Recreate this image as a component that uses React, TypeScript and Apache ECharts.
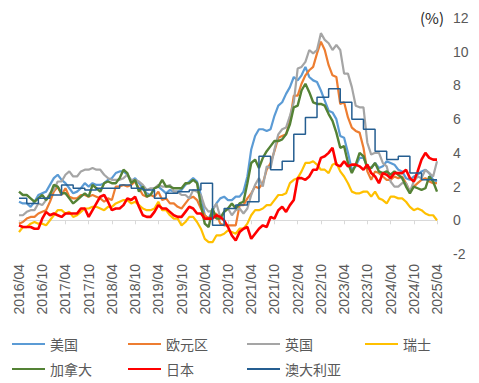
import React, { useEffect, useRef } from "react";
import * as echarts from "echarts";

// Monthly categories from 2016/04 to 2025/04
const startYear = 2016;
const startMonth = 4;
const monthCount = 109;
const categories: string[] = [];
for (let i = 0; i < monthCount; i++) {
  const m = startMonth - 1 + i;
  const y = startYear + Math.floor(m / 12);
  const mm = (m % 12) + 1;
  categories.push(`${y}/${mm < 10 ? "0" + mm : mm}`);
}

const yTicks = { min: -2, max: 12, interval: 2 };

// CPI YoY (%) — index 0 = 2016/04
const usa = [
  1.1, 1.0, 1.0, 0.8, 1.1, 1.5, 1.6, 1.7, 2.1,
  2.5, 2.7, 2.4, 2.2, 1.9, 1.6, 1.7, 1.9, 2.2, 2.0, 2.2, 2.1,
  2.1, 2.2, 2.4, 2.5, 2.8, 2.9, 2.9, 2.7, 2.3, 2.5, 2.2, 1.9,
  1.6, 1.5, 1.9, 2.0, 1.8, 1.6, 1.8, 1.7, 1.7, 1.8, 2.1, 2.3,
  2.5, 2.3, 1.5, 0.3, 0.1, 0.6, 1.0, 1.3, 1.4, 1.2, 1.2, 1.4,
  1.4, 1.7, 2.6, 4.2, 5.0, 5.4, 5.4, 5.3, 5.4, 6.2, 6.8, 7.0,
  7.5, 7.9, 8.5, 8.3, 8.6, 9.1, 8.5, 8.3, 8.2, 7.7, 7.1, 6.5,
  6.4, 6.0, 5.0, 4.9, 4.0, 3.0, 3.2, 3.7, 3.7, 3.2, 3.1, 3.4,
  3.1, 3.2, 3.5, 3.4, 3.3, 3.0, 2.9, 2.5, 2.4, 2.6, 2.7, 2.9,
  3.0, 2.8, 2.4, 2.3,
];
const euro = [
  -0.2, -0.1, 0.1, 0.2, 0.2, 0.4, 0.5, 0.6, 1.1,
  1.7, 2.0, 1.5, 1.9, 1.4, 1.3, 1.3, 1.5, 1.5, 1.4, 1.5, 1.4,
  1.3, 1.1, 1.3, 1.2, 2.0, 2.0, 2.1, 2.0, 2.1, 2.3, 1.9, 1.5,
  1.4, 1.5, 1.4, 1.7, 1.2, 1.3, 1.0, 1.0, 0.8, 0.7, 1.0, 1.3,
  1.4, 1.2, 0.7, 0.3, 0.1, 0.3, 0.4, -0.2, -0.3, -0.3, -0.3, -0.3,
  0.9, 0.9, 1.3, 1.6, 2.0, 1.9, 2.2, 3.0, 3.4, 4.1, 4.9, 5.0,
  5.1, 5.9, 7.4, 7.4, 8.1, 8.6, 8.9, 9.1, 9.9, 10.6, 10.1, 9.2,
  8.6, 8.5, 6.9, 7.0, 6.1, 5.5, 5.3, 5.2, 4.3, 2.9, 2.4, 2.9,
  2.8, 2.6, 2.4, 2.4, 2.6, 2.5, 2.6, 2.2, 1.7, 2.0, 2.2, 2.4,
  2.5, 2.3, 2.2, 2.2,
];
const uk = [
  0.3, 0.3, 0.5, 0.6, 0.6, 1.0, 0.9, 1.2, 1.6,
  1.8, 2.3, 2.3, 2.7, 2.9, 2.6, 2.6, 2.9, 3.0, 3.0, 3.1, 3.0,
  3.0, 2.7, 2.5, 2.4, 2.4, 2.4, 2.5, 2.7, 2.4, 2.4, 2.3, 2.1,
  1.8, 1.9, 1.9, 2.1, 2.0, 2.0, 2.1, 1.7, 1.7, 1.5, 1.5, 1.3,
  1.8, 1.7, 1.5, 0.8, 0.5, 0.6, 1.0, 0.2, 0.5, 0.7, 0.3, 0.6,
  0.7, 0.4, 0.7, 1.5, 2.1, 2.5, 2.0, 3.2, 3.1, 4.2, 5.1, 5.4,
  5.5, 6.2, 7.0, 9.0, 9.1, 9.4, 10.1, 9.9, 10.1, 11.1, 10.7, 10.5,
  10.1, 10.4, 10.1, 8.7, 8.7, 7.9, 6.8, 6.7, 6.7, 4.6, 3.9, 4.0,
  4.0, 3.4, 3.2, 2.3, 2.0, 2.0, 2.2, 2.2, 1.7, 2.3, 2.6, 2.5,
  3.0, 2.8, 2.6, 3.5,
];
const swiss = [
  -0.7, -0.4, -0.4, -0.2, -0.1, -0.2, -0.2, -0.3, 0.0,
  0.3, 0.6, 0.6, 0.4, 0.5, 0.2, 0.3, 0.5, 0.7, 0.7, 0.8, 0.8,
  0.7, 0.6, 0.8, 0.8, 1.0, 1.1, 1.2, 1.2, 1.0, 1.1, 0.9, 0.7,
  0.6, 0.6, 0.7, 1.1, 0.6, 0.6, 0.3, 0.1, 0.1, -0.3, -0.1, 0.2,
  0.2, -0.1, -0.5, -1.1, -1.3, -1.3, -0.9, -0.9, -0.8, -0.6, -0.7, -0.8,
  -0.5, -0.5, -0.2, 0.3, 0.6, 0.6, 0.7, 0.9, 0.9, 1.2, 1.5, 1.5,
  1.6, 2.2, 2.4, 2.5, 2.9, 3.4, 3.4, 3.5, 3.3, 3.0, 3.0, 2.8,
  3.3, 3.4, 2.9, 2.6, 2.2, 1.7, 1.6, 1.6, 1.7, 1.7, 1.4, 1.7,
  1.3, 1.2, 1.0, 1.4, 1.4, 1.3, 1.3, 1.1, 0.8, 0.6, 0.7, 0.6,
  0.4, 0.3, 0.3, 0.0,
];
const canada = [
  1.7, 1.5, 1.5, 1.3, 1.1, 1.3, 1.5, 1.2, 1.5,
  2.1, 2.0, 1.6, 1.6, 1.3, 1.0, 1.2, 1.4, 1.6, 1.4, 2.1, 1.9,
  1.7, 2.2, 2.3, 2.2, 2.2, 2.5, 3.0, 2.8, 2.2, 2.4, 1.7, 2.0,
  1.4, 1.5, 1.9, 2.0, 2.4, 2.0, 2.0, 1.9, 1.9, 1.9, 2.2, 2.2,
  2.4, 2.2, 0.9, -0.2, -0.4, 0.7, 0.1, 0.1, 0.5, 0.7, 1.0, 0.7,
  1.0, 1.1, 2.2, 3.4, 3.6, 3.1, 3.7, 4.1, 4.4, 4.7, 4.7, 4.8,
  5.1, 5.7, 6.7, 6.8, 7.7, 8.1, 7.6, 7.0, 6.9, 6.9, 6.8, 6.3,
  5.9, 5.2, 4.3, 4.4, 3.4, 2.8, 3.3, 4.0, 3.8, 3.1, 3.1, 3.4,
  2.9, 2.8, 2.9, 2.7, 2.9, 2.7, 2.5, 2.0, 1.6, 2.0, 1.9, 1.8,
  1.9, 2.6, 2.3, 1.7,
];
const japan = [
  -0.3, -0.4, -0.4, -0.4, -0.5, -0.5, 0.1, 0.5, 0.3,
  0.4, 0.3, 0.2, 0.4, 0.4, 0.4, 0.4, 0.7, 0.7, 0.2, 0.6, 1.0,
  1.4, 1.5, 1.1, 0.6, 0.7, 0.7, 0.9, 1.3, 1.2, 1.4, 0.8, 0.3,
  0.2, 0.2, 0.5, 0.9, 0.7, 0.7, 0.5, 0.3, 0.2, 0.2, 0.5, 0.8,
  0.7, 0.4, 0.4, 0.1, 0.1, 0.1, 0.3, 0.2, 0.0, -0.4, -0.9, -1.2,
  -0.7, -0.5, -0.4, -1.1, -0.8, -0.5, -0.3, -0.4, 0.2, 0.1, 0.6, 0.8,
  0.5, 0.9, 1.2, 2.5, 2.5, 2.4, 2.6, 3.0, 3.0, 3.7, 3.8, 4.0,
  4.3, 3.3, 3.2, 3.5, 3.2, 3.3, 3.3, 3.2, 3.0, 3.3, 2.8, 2.6,
  2.2, 2.8, 2.7, 2.5, 2.8, 2.8, 2.8, 3.0, 2.5, 2.3, 2.9, 3.6,
  4.0, 3.7, 3.6, 3.6,
];
// Australia: quarterly CPI shown as monthly steps
const australia = [
  1.3, 1.3, 1.0, 1.0, 1.0, 1.3, 1.3, 1.3, 1.5,
  1.5, 1.5, 2.1, 2.1, 2.1, 1.9, 1.9, 1.9, 1.8, 1.8, 1.8, 1.9,
  1.9, 1.9, 1.9, 1.9, 1.9, 2.1, 2.1, 2.1, 1.9, 1.9, 1.9, 1.8,
  1.8, 1.8, 1.3, 1.3, 1.3, 1.6, 1.6, 1.6, 1.7, 1.7, 1.7, 1.8,
  1.8, 1.8, 2.2, 2.2, 2.2, -0.3, -0.3, -0.3, 0.7, 0.7, 0.7, 0.9,
  0.9, 0.9, 1.1, 1.1, 1.1, 3.8, 3.8, 3.8, 3.0, 3.0, 3.0, 3.5,
  3.5, 3.5, 5.1, 5.1, 5.1, 6.1, 6.1, 6.1, 7.3, 7.3, 7.3, 7.8,
  7.8, 7.8, 7.0, 7.0, 7.0, 6.0, 6.0, 6.0, 5.4, 5.4, 5.4, 4.1,
  4.1, 4.1, 3.6, 3.6, 3.6, 3.8, 3.8, 3.8, 2.8, 2.8, 2.8, 2.4,
  2.4, 2.4, 2.4, 2.4,
];

const seriesNames = ["美国", "欧元区", "英国", "瑞士", "加拿大", "日本", "澳大利亚"];
const seriesData = [usa, euro, uk, swiss, canada, japan, australia];
const colors = ["#5B9BD5", "#ED7D31", "#A5A5A5", "#FFC000", "#548235", "#FF0000", "#255E91"];
const widths = [2.2, 2.2, 2.2, 2.2, 2.4, 2.6, 1.5];

const FONT = "'Noto Sans CJK SC', 'Noto Sans', sans-serif";
const NUM_FONT = "'Liberation Sans', Arial, sans-serif";

export default function App() {
  const ref = useRef<HTMLDivElement>(null);
  useEffect(() => {
    if (!ref.current) return;
    const chart = echarts.init(ref.current, undefined, { renderer: "svg" });
    const legendCols = [
      { left: 12, data: ["美国", "加拿大"] },
      { left: 128, data: ["欧元区", "日本"] },
      { left: 247, data: ["英国", "澳大利亚"] },
      { left: 365, data: ["瑞士"] },
    ];
    chart.setOption({
      animation: false,
      textStyle: { fontFamily: FONT },
      grid: { left: 19, right: 42, top: 18, bottom: 129 },
      legend: legendCols.map((c) => ({
        left: c.left,
        top: 337,
        padding: 0,
        orient: "vertical",
        itemWidth: 33,
        itemHeight: 2,
        itemGap: 11,
        icon: "rect",
        data: c.data,
        textStyle: { color: "#595959", fontSize: 14, fontFamily: FONT },
      })),
      graphic: [
        {
          type: "text",
          left: 420,
          top: 10,
          style: { text: "(%)", fill: "#262626", fontSize: 15, fontFamily: FONT },
        },
      ],
      xAxis: [
        {
          type: "category",
          data: categories,
          boundaryGap: false,
          axisLine: { onZero: true, lineStyle: { color: "#D9D9D9", width: 1 } },
          axisTick: { show: true, interval: 5, length: 4, lineStyle: { color: "#D9D9D9" } },
          axisLabel: { show: false },
          splitLine: { show: false },
        },
        {
          type: "category",
          data: categories,
          boundaryGap: false,
          position: "bottom",
          axisLine: { show: false, onZero: false },
          axisTick: { show: false },
          axisLabel: {
            interval: 5,
            rotate: 90,
            margin: 10,
            color: "#595959",
            fontSize: 14,
            fontFamily: NUM_FONT,
          },
          splitLine: { show: false },
        },
      ],
      yAxis: {
        type: "value",
        position: "right",
        min: yTicks.min,
        max: yTicks.max,
        interval: yTicks.interval,
        axisLine: { show: false },
        axisTick: { show: false },
        splitLine: { show: false },
        axisLabel: { margin: 16, color: "#595959", fontSize: 14, fontFamily: NUM_FONT },
      },
      series: seriesNames.map((name, i) => ({
        name,
        type: "line",
        data: seriesData[i],
        symbol: "none",
        step: name === "澳大利亚" ? "end" : undefined,
        lineStyle: { color: colors[i], width: widths[i] },
        itemStyle: { color: colors[i] },
      })),
    });
    return () => chart.dispose();
  }, []);
  return (
    <div
      ref={ref}
      style={{ position: "fixed", left: 0, top: 0, width: 479, height: 383, background: "#fff" }}
    />
  );
}
